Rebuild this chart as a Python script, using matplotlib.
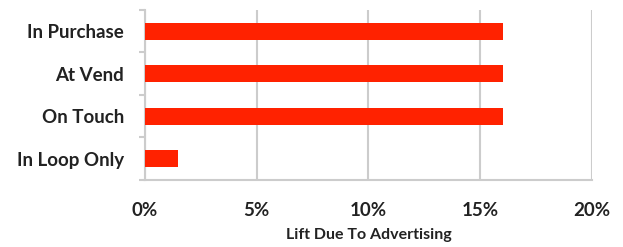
import matplotlib
matplotlib.use('Agg')
import matplotlib.pyplot as plt
from matplotlib.ticker import FuncFormatter, MultipleLocator

# данные
categories = ['In Purchase', 'At Vend', 'On Touch', 'In Loop Only']
lift = [16.0, 16.0, 16.0, 1.5]

plt.rcParams['font.family'] = ['Lato', 'DejaVu Sans']

fig = plt.figure(figsize=(6.23, 2.47), dpi=100)
ax = fig.add_axes([0.2327, 0.2713, 0.7175, 0.6882])

pos = list(range(len(categories)))[::-1]
ax.barh(pos, lift, height=0.4, color='#ff2200', zorder=3)

ax.set_xlim(0, 20)
ax.set_ylim(-0.5, len(categories) - 0.5)
ax.xaxis.set_major_locator(MultipleLocator(5))
ax.xaxis.set_major_formatter(FuncFormatter(lambda v, p: '%d%%' % v))
ax.set_yticks(pos)
ax.set_yticklabels(categories)
ax.set_yticks([i - 0.5 for i in range(len(categories) + 1)], minor=True)

ax.grid(axis='x', color='#cccccc', linewidth=1.5, zorder=0)
for s in ['top', 'right']:
    ax.spines[s].set_visible(False)
for s in ['left', 'bottom']:
    ax.spines[s].set_color('#cccccc')
    ax.spines[s].set_linewidth(1.5)

ax.tick_params(axis='y', which='major', length=0, pad=15)
ax.tick_params(axis='y', which='minor', length=4, width=1.5, color='#cccccc')
ax.tick_params(axis='x', length=0, pad=16)
for lab in ax.get_xticklabels() + ax.get_yticklabels():
    lab.set_fontsize(13.5)
    lab.set_fontweight('bold')
    lab.set_color('#222222')

ax.set_xlabel('Lift Due To Advertising', fontsize=11.5, fontweight='bold',
              color='#222222', labelpad=6)

fig.savefig('out.png', dpi=100)
